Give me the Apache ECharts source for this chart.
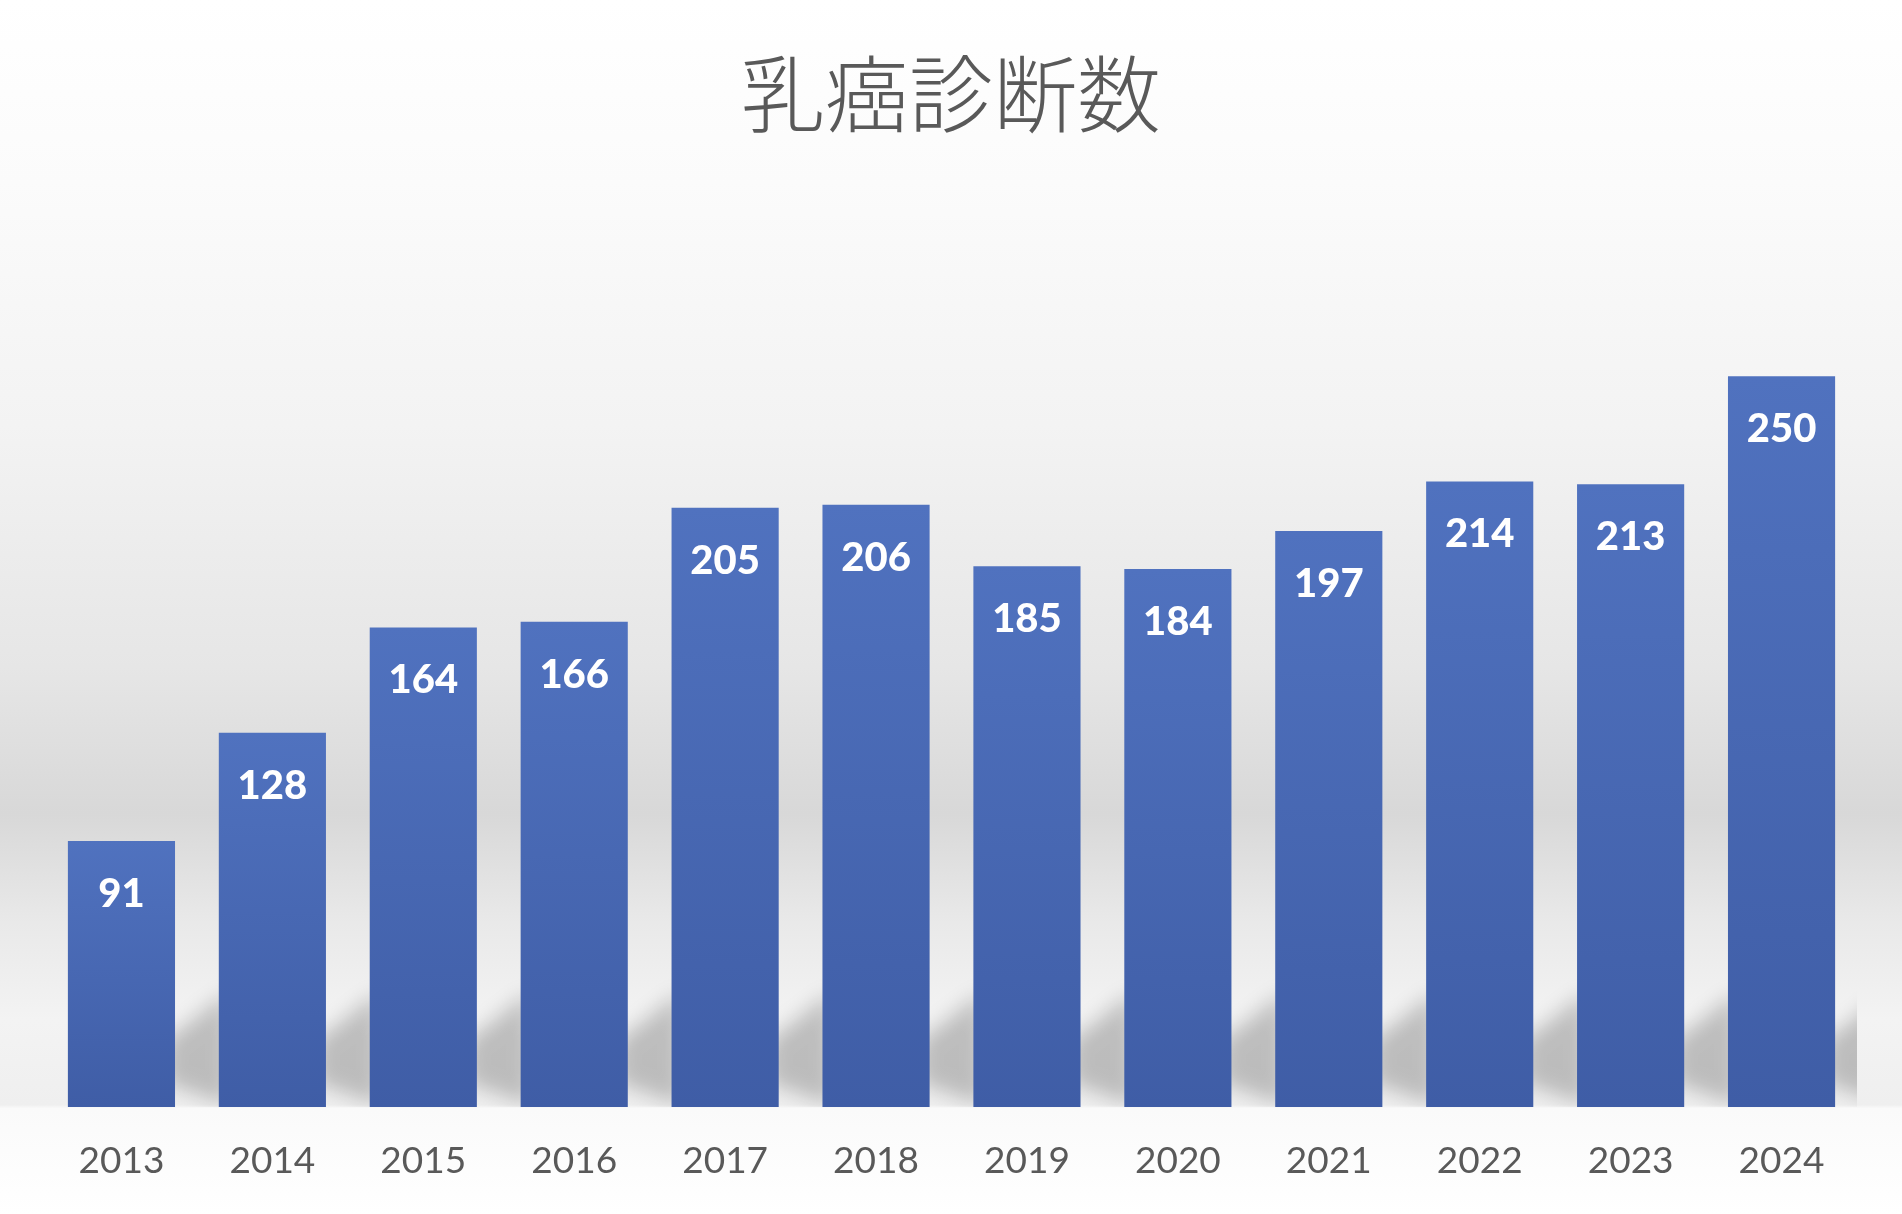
<!DOCTYPE html>
<html>
<head>
<meta charset="utf-8">
<script src="https://cdn.jsdelivr.net/npm/echarts@6/dist/echarts.min.js"></script>
<style>
html,body{margin:0;padding:0;width:1902px;height:1214px;overflow:hidden;background:#fff;}
#chart{width:1902px;height:1214px;}
</style>
</head>
<body>
<div id="chart"></div>
<script>
const titleText = '乳癌診断数';
const years = ['2013','2014','2015','2016','2017','2018','2019','2020','2021','2022','2023','2024'];
const counts = [91,128,164,166,205,206,185,184,197,214,213,250];
const yMax = 300;

const chart = echarts.init(document.getElementById('chart'), null, {renderer:'canvas'});
const option = {
  animation: false,
  backgroundColor: {
    type: 'linear', x: 0, y: 0, x2: 0, y2: 1,
    colorStops: [
      {offset: 0, color: '#ffffff'},
      {offset: 0.15, color: '#fbfbfb'},
      {offset: 0.35, color: '#f3f3f3'},
      {offset: 0.55, color: '#e6e6e6'},
      {offset: 0.67, color: '#d8d8d8'},
      {offset: 0.76, color: '#e9e9e9'},
      {offset: 0.84, color: '#f3f3f3'},
      {offset: 0.91, color: '#efefef'},
      {offset: 0.913, color: '#fafafa'},
      {offset: 1, color: '#ffffff'}
    ]
  },
  title: {
    text: titleText,
    left: 'center',
    top: 47,
    textStyle: {
      fontFamily: '"Noto Sans CJK JP Light", "Noto Sans CJK JP"',
      fontWeight: 300,
      fontSize: 84,
      color: '#595959'
    }
  },
  grid: {left: 46, right: 45, top: 230, bottom: 107, containLabel: false},
  xAxis: {
    type: 'category',
    data: years,
    axisLine: {show: false},
    axisTick: {show: false},
    axisLabel: {
      margin: 36,
      fontFamily: 'Lato',
      fontSize: 37,
      color: '#595959'
    }
  },
  yAxis: {
    type: 'value',
    min: 0,
    max: yMax,
    show: false,
    splitLine: {show: false}
  },
  series: [
    {
      type: 'custom',
      z: 1,
      clip: true,
      data: counts.map((v, i) => [i, v]),
      renderItem: function (params, api) {
        const base = api.coord([api.value(0), 0]);
        const cw = api.size([1, 0])[0];
        const bw = cw * 0.71;
        const gw = cw - bw;
        const x1 = base[0] + bw / 2, y = base[1];
        const off = 4000;
        return {
          type: 'polygon',
          shape: {points: [
            [x1 - 10 - off, y - 24],
            [x1 + gw + 10 - off, y - 2],
            [x1 + gw + 10 - off, y - 115],
            [x1 - 10 - off, y - 66]
          ]},
          style: {
            fill: '#000',
            shadowBlur: 20,
            shadowOffsetX: off,
            shadowColor: 'rgba(0,0,0,0.22)'
          }
        };
      }
    },
    {
      type: 'bar',
      z: 2,
      data: counts,
      barCategoryGap: '29%',
      itemStyle: {
        color: new echarts.graphic.LinearGradient(0, 0, 0, 1, [
          {offset: 0, color: '#5072bf'},
          {offset: 1, color: '#3f5da6'}
        ])
      },
      label: {
        show: true,
        position: 'insideTop',
        distance: 33,
        color: '#ffffff',
        fontFamily: 'Lato',
        fontWeight: 900,
        fontSize: 40
      }
    }
  ]
};
chart.setOption(option);
</script>
</body>
</html>
